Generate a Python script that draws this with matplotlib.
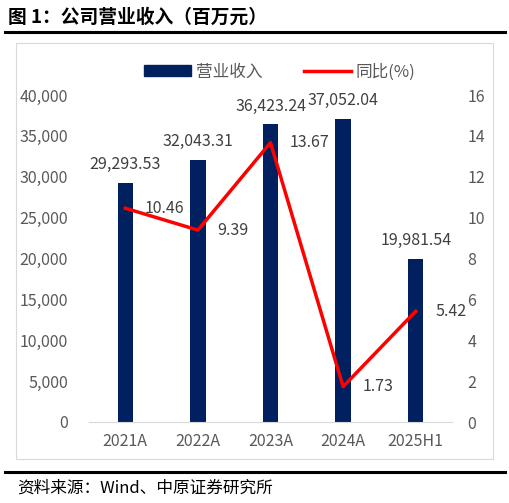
import matplotlib
matplotlib.use("Agg")
import matplotlib.pyplot as plt
from matplotlib.patches import Rectangle
from matplotlib.lines import Line2D
from matplotlib.ticker import FuncFormatter, MultipleLocator

plt.rcParams['font.family'] = ['Noto Sans CJK SC', 'DejaVu Sans']

categories = ['2021A', '2022A', '2023A', '2024A', '2025H1']
revenue = [29293.53, 32043.31, 36423.24, 37052.04, 19981.54]
yoy = [10.46, 9.39, 13.67, 1.73, 5.42]

W, H = 510, 503
fig = plt.figure(figsize=(W/100, H/100), dpi=100)

def fx(px): return px / W
def fy(py): return 1 - py / H

# Title
fig.text(fx(8), fy(17), '图 1：公司营业收入（百万元）', fontsize=13.5, fontweight='bold',
         ha='left', va='center', color='black')
fig.add_artist(Line2D([fx(5), fx(505)], [fy(32), fy(32)], color='black', lw=2.2))
# frame
fig.add_artist(Rectangle((fx(16), fy(459)), fx(493)-fx(16), fy(43)-fy(459),
                         fill=False, edgecolor='#d9d9d9', lw=0.8))
fig.add_artist(Line2D([fx(5), fx(505)], [fy(472), fy(472)], color='black', lw=2.2))
fig.text(fx(17), fy(488), '资料来源：Wind、中原证券研究所', fontsize=12,
         ha='left', va='center', color='black')

gray = '#595959'
navy = '#002060'
red = '#FF0000'

ax = fig.add_axes([fx(89), fy(422), fx(452)-fx(89), fy(95)-fy(422)])
x = list(range(len(categories)))
ax.bar(x, revenue, width=0.21, color=navy, zorder=2)
ax.set_xlim(-0.5, 4.5)
ax.set_ylim(0, 40000)
ax.yaxis.set_major_locator(MultipleLocator(5000))
ax.yaxis.set_major_formatter(FuncFormatter(lambda v, p: f'{int(v):,}'))
ax.set_xticks(x)
ax.set_xticklabels(categories)
for s in ['top', 'right', 'left']:
    ax.spines[s].set_visible(False)
ax.spines['bottom'].set_color('#d9d9d9')
ax.tick_params(axis='both', length=0, labelsize=11.5, labelcolor=gray)
ax.tick_params(axis='y', pad=15)
ax.tick_params(axis='x', pad=8)
for xi, v in zip(x, revenue):
    ax.annotate(f'{v:,.2f}', (xi, v), xytext=(0, 7), textcoords='offset points',
                ha='center', va='bottom', fontsize=11.5, color='#404040')

ax2 = ax.twinx()
ax2.plot(x, yoy, color=red, lw=2.5, zorder=3)
ax2.set_ylim(0, 16)
ax2.yaxis.set_major_locator(MultipleLocator(2))
for s in ['top', 'right', 'left', 'bottom']:
    ax2.spines[s].set_visible(False)
ax2.tick_params(axis='y', length=0, labelsize=11.5, labelcolor=gray, pad=11)
for xi, v in zip(x, yoy):
    ax2.annotate(f'{v:.2f}', (xi, v), xytext=(14, 0), textcoords='offset points',
                 ha='left', va='center', fontsize=11.5, color='#404040')

handles = [Rectangle((0, 0), 1, 1, color=navy),
           Line2D([0], [0], color=red, lw=2.5)]
fig.legend(handles, ['营业收入', '同比(%)'], loc='center', bbox_to_anchor=(fx(280), fy(72)),
           ncol=2, frameon=False, fontsize=12, labelcolor=gray, handlelength=2.8,
           handleheight=0.6, columnspacing=2.5, handletextpad=0.3)

fig.savefig('out.png', dpi=100)
